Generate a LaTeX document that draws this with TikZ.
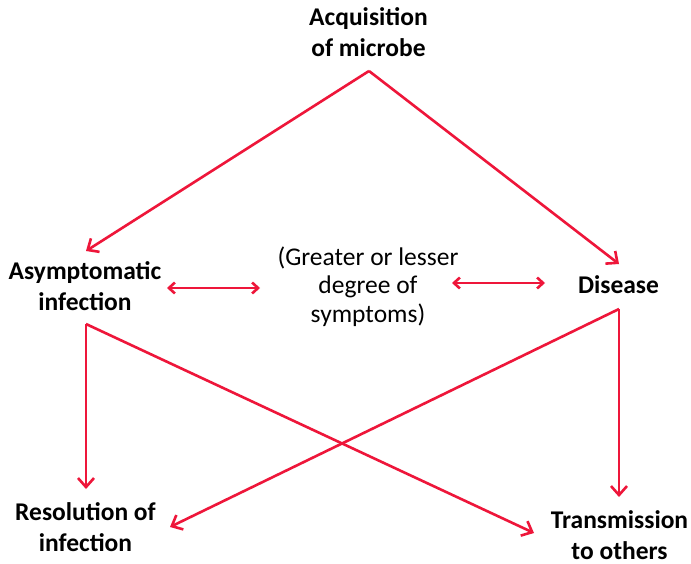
\documentclass[tikz,border=0pt]{standalone}
\usepackage{fontspec}
\setmainfont{Carlito}
\usetikzlibrary{arrows.meta}
\definecolor{arrowred}{RGB}{238,22,58}
\tikzset{
  lbl/.style={inner sep=0pt, align=center, font=\fontsize{25.5}{31}\selectfont\bfseries, anchor=base},
  plain/.style={inner sep=0pt, align=center, font=\fontsize{25.5}{28.5}\selectfont, anchor=base},
  link/.style={draw=arrowred, line width=2.6pt, line join=miter, -{Straight Barb[length=9pt,width=16pt,line width=2.6pt]}},
  dlink/.style={draw=arrowred, line width=2.6pt, {Straight Barb[length=6pt,width=11pt,line width=2.6pt]}-{Straight Barb[length=6pt,width=11pt,line width=2.6pt]}}
}
\begin{document}
\begin{tikzpicture}[x=1pt,y=-1pt]
\useasboundingbox (0,0) rectangle (691,564);
\fill[white] (0,0) rectangle (691,564);
% text nodes (base anchor = baseline of last line)
\node[lbl] (acq) at (368.5,57) {Acquisition\\of microbe};
\node[lbl] (asym) at (85,310) {Asymptomatic\\infection};
\node[plain] (mid) at (368,322) {(Greater or lesser\\degree of\\symptoms)};
\node[lbl] (dis) at (618.5,294) {Disease};
\node[lbl] (res) at (85.5,551) {Resolution of\\infection};
\node[lbl] (trans) at (619.5,559) {Transmission\\to others};
% connector points
\coordinate (apex) at (369,71);
\coordinate (asymIn) at (86,251);
\coordinate (disIn) at (619,264);
\coordinate (asymOut) at (86,324);
\coordinate (disOut) at (619,309);
\coordinate (resIn) at (86,489);
\coordinate (resInD) at (170,527);
\coordinate (transIn) at (619,497);
\coordinate (transInD) at (534,533);
\coordinate (dlA) at (167,288);
\coordinate (dlB) at (260,288);
\coordinate (drA) at (452,283);
\coordinate (drB) at (545,283);
% connectors
\draw[link] (apex) -- (asymIn);
\draw[link] (apex) -- (disIn);
\draw[link] (asymOut) -- (resIn);
\draw[link] (asymOut) -- (transInD);
\draw[link] (disOut) -- (transIn);
\draw[link] (disOut) -- (resInD);
\draw[dlink] (dlA) -- (dlB);
\draw[dlink] (drA) -- (drB);
\end{tikzpicture}
\end{document}
